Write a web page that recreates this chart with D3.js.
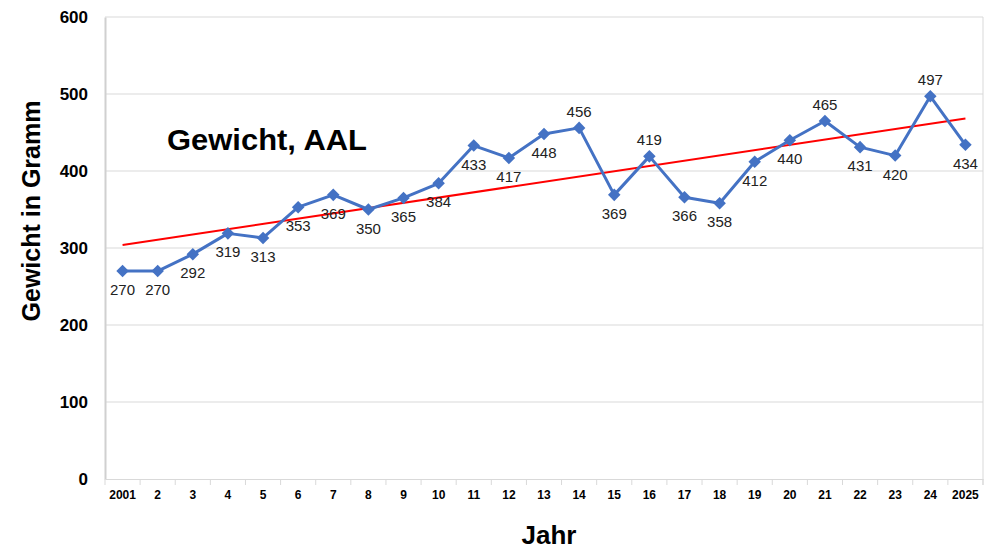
<!DOCTYPE html>
<html><head><meta charset="utf-8">
<script src="https://cdn.jsdelivr.net/npm/d3@7"></script>
<style>body{margin:0;background:#fff}svg{display:block;font-family:Arial,"Liberation Sans",sans-serif}</style>
</head><body>
<svg id="c" width="997" height="549"></svg>
<script>
const categories = ["2001","2","3","4","5","6","7","8","9","10","11","12","13","14","15","16","17","18","19","20","21","22","23","24","2025"];
const values = [270,270,292,319,313,353,369,350,365,384,433,417,448,456,369,419,366,358,412,440,465,431,420,497,434];
const labelAbove = ["14","16","21","24"];
const yTicks = [0,100,200,300,400,500,600];

const svg = d3.select("#c");
const L = 105, R = 983, T = 17, B = 479;
const x = d3.scaleBand().domain(categories).range([L, R]);
const y = d3.scaleLinear().domain([0, 600]).range([B, T]);
const cx = d => x(d) + x.bandwidth() / 2;

svg.append("g").selectAll("line").data(yTicks.filter(t => t > 0)).join("line")
  .attr("x1", L).attr("x2", R).attr("y1", d => y(d)).attr("y2", d => y(d))
  .attr("stroke", "#d9d9d9").attr("stroke-width", 1);
svg.append("line").attr("x1", R).attr("x2", R).attr("y1", T).attr("y2", B + 6).attr("stroke", "#d9d9d9");

const ya = svg.append("g").attr("transform", `translate(${L},0)`)
  .call(d3.axisLeft(y).tickValues(yTicks).tickSize(0).tickPadding(17));
ya.select(".domain").attr("stroke", "#d0d0d0").attr("stroke-width", 2);
ya.selectAll("text").attr("font-size", 17).attr("font-weight", "bold").attr("fill", "#000")
  .attr("font-family", "Arial, 'Liberation Sans', sans-serif");

const xa = svg.append("g").attr("transform", `translate(0,${B})`)
  .call(d3.axisBottom(x).tickSize(0).tickPadding(11));
xa.select(".domain").attr("stroke", "#d9d9d9").attr("stroke-width", 1);
xa.selectAll("text").attr("font-size", 12).attr("font-weight", "bold").attr("fill", "#000")
  .attr("font-family", "Arial, 'Liberation Sans', sans-serif");
const bounds = categories.map(c => x(c)).concat([R]);
svg.append("g").selectAll("line").data(bounds).join("line")
  .attr("x1", d => d).attr("x2", d => d).attr("y1", B).attr("y2", B + 6)
  .attr("stroke", "#d9d9d9");

const n = values.length;
const xs = d3.range(n);
const mx = d3.mean(xs), my = d3.mean(values);
const slope = d3.sum(xs, i => (i - mx) * (values[i] - my)) / d3.sum(xs, i => (i - mx) ** 2);
const icpt = my - slope * mx;
svg.append("line")
  .attr("x1", cx(categories[0])).attr("y1", y(icpt))
  .attr("x2", cx(categories[n - 1])).attr("y2", y(icpt + slope * (n - 1)))
  .attr("stroke", "#ff0000").attr("stroke-width", 2);

svg.append("path").datum(values)
  .attr("d", d3.line().x((d, i) => cx(categories[i])).y(d => y(d)))
  .attr("fill", "none").attr("stroke", "#4472c4").attr("stroke-width", 3).attr("stroke-linejoin", "round");

svg.append("g").selectAll("path").data(values).join("path")
  .attr("d", d3.symbol(d3.symbolDiamond2, 100))
  .attr("transform", (d, i) => `translate(${cx(categories[i])},${y(d)})`)
  .attr("fill", "#4472c4");

svg.append("g").selectAll("text").data(values).join("text")
  .attr("x", (d, i) => cx(categories[i]))
  .attr("y", (d, i) => y(d) + (labelAbove.includes(categories[i]) ? -11 : 24))
  .attr("text-anchor", "middle").attr("font-size", 15).attr("fill", "#222")
  .text(d => d);

svg.append("text").attr("x", 167).attr("y", 150).attr("font-size", 30).attr("font-weight", "bold")
  .attr("fill", "#000").attr("textLength", 200).attr("lengthAdjust", "spacingAndGlyphs").text("Gewicht, AAL");

svg.append("text").attr("transform", "translate(40,211) rotate(-90)").attr("text-anchor", "middle")
  .attr("font-size", 25).attr("font-weight", "bold").attr("fill", "#000").text("Gewicht in Gramm");
svg.append("text").attr("x", 549).attr("y", 544).attr("text-anchor", "middle")
  .attr("font-size", 26).attr("font-weight", "bold").attr("fill", "#000").text("Jahr");
</script>
</body></html>
